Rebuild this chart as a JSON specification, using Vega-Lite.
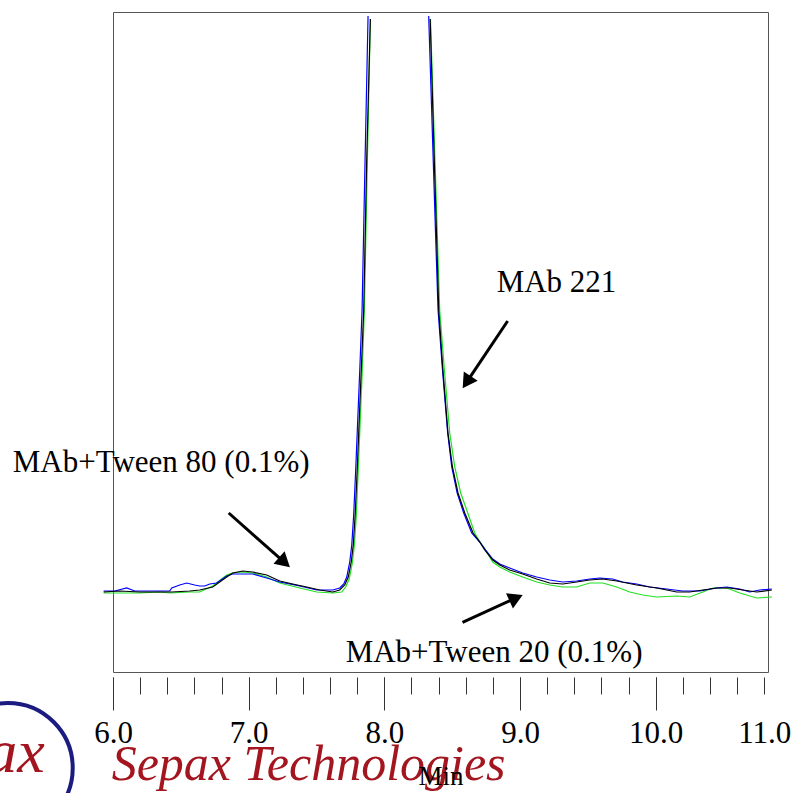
{
  "$schema": "https://vega.github.io/schema/vega-lite/v6.json",
  "autosize": {"type": "none"},
  "width": 655,
  "height": 660,
  "padding": {"left": 113, "top": 12, "right": 27, "bottom": 121},
  "background": "white",
  "config": {"view": {"stroke": "#555555", "strokeWidth": 1}, "font": "Liberation Serif"},
  "datasets": {
    "traces": [
      {"sample": "MAb+Tween 20", "part": "L", "min": 5.931, "mAU": -3},
      {"sample": "MAb+Tween 20", "part": "L", "min": 6.049, "mAU": -3},
      {"sample": "MAb+Tween 20", "part": "L", "min": 6.197, "mAU": -3},
      {"sample": "MAb+Tween 20", "part": "L", "min": 6.344, "mAU": -2},
      {"sample": "MAb+Tween 20", "part": "L", "min": 6.418, "mAU": -3},
      {"sample": "MAb+Tween 20", "part": "L", "min": 6.565, "mAU": -2},
      {"sample": "MAb+Tween 20", "part": "L", "min": 6.639, "mAU": -2},
      {"sample": "MAb+Tween 20", "part": "L", "min": 6.735, "mAU": 4},
      {"sample": "MAb+Tween 20", "part": "L", "min": 6.838, "mAU": 15},
      {"sample": "MAb+Tween 20", "part": "L", "min": 6.882, "mAU": 17},
      {"sample": "MAb+Tween 20", "part": "L", "min": 6.956, "mAU": 18},
      {"sample": "MAb+Tween 20", "part": "L", "min": 7.030, "mAU": 17},
      {"sample": "MAb+Tween 20", "part": "L", "min": 7.133, "mAU": 13},
      {"sample": "MAb+Tween 20", "part": "L", "min": 7.229, "mAU": 7},
      {"sample": "MAb+Tween 20", "part": "L", "min": 7.376, "mAU": 2},
      {"sample": "MAb+Tween 20", "part": "L", "min": 7.502, "mAU": -2},
      {"sample": "MAb+Tween 20", "part": "L", "min": 7.620, "mAU": -3},
      {"sample": "MAb+Tween 20", "part": "L", "min": 7.686, "mAU": -2},
      {"sample": "MAb+Tween 20", "part": "L", "min": 7.715, "mAU": 3},
      {"sample": "MAb+Tween 20", "part": "L", "min": 7.741, "mAU": 11},
      {"sample": "MAb+Tween 20", "part": "L", "min": 7.763, "mAU": 26},
      {"sample": "MAb+Tween 20", "part": "L", "min": 7.778, "mAU": 43},
      {"sample": "MAb+Tween 20", "part": "L", "min": 7.793, "mAU": 73},
      {"sample": "MAb+Tween 20", "part": "L", "min": 7.807, "mAU": 118},
      {"sample": "MAb+Tween 20", "part": "L", "min": 7.822, "mAU": 168},
      {"sample": "MAb+Tween 20", "part": "L", "min": 7.837, "mAU": 218},
      {"sample": "MAb+Tween 20", "part": "L", "min": 7.853, "mAU": 280},
      {"sample": "MAb+Tween 20", "part": "L", "min": 7.875, "mAU": 430},
      {"sample": "MAb+Tween 20", "part": "L", "min": 7.897, "mAU": 571},
      {"sample": "MAb+Tween 20", "part": "R", "min": 8.340, "mAU": 571},
      {"sample": "MAb+Tween 20", "part": "R", "min": 8.371, "mAU": 440},
      {"sample": "MAb+Tween 20", "part": "R", "min": 8.392, "mAU": 350},
      {"sample": "MAb+Tween 20", "part": "R", "min": 8.408, "mAU": 280},
      {"sample": "MAb+Tween 20", "part": "R", "min": 8.441, "mAU": 223},
      {"sample": "MAb+Tween 20", "part": "R", "min": 8.482, "mAU": 157},
      {"sample": "MAb+Tween 20", "part": "R", "min": 8.519, "mAU": 123},
      {"sample": "MAb+Tween 20", "part": "R", "min": 8.563, "mAU": 97},
      {"sample": "MAb+Tween 20", "part": "R", "min": 8.615, "mAU": 77},
      {"sample": "MAb+Tween 20", "part": "R", "min": 8.666, "mAU": 57},
      {"sample": "MAb+Tween 20", "part": "R", "min": 8.710, "mAU": 47},
      {"sample": "MAb+Tween 20", "part": "R", "min": 8.755, "mAU": 38},
      {"sample": "MAb+Tween 20", "part": "R", "min": 8.799, "mAU": 28},
      {"sample": "MAb+Tween 20", "part": "R", "min": 8.851, "mAU": 23},
      {"sample": "MAb+Tween 20", "part": "R", "min": 8.924, "mAU": 18},
      {"sample": "MAb+Tween 20", "part": "R", "min": 9.020, "mAU": 13},
      {"sample": "MAb+Tween 20", "part": "R", "min": 9.123, "mAU": 8},
      {"sample": "MAb+Tween 20", "part": "R", "min": 9.219, "mAU": 5},
      {"sample": "MAb+Tween 20", "part": "R", "min": 9.315, "mAU": 3},
      {"sample": "MAb+Tween 20", "part": "R", "min": 9.418, "mAU": 3},
      {"sample": "MAb+Tween 20", "part": "R", "min": 9.514, "mAU": 7},
      {"sample": "MAb+Tween 20", "part": "R", "min": 9.610, "mAU": 7},
      {"sample": "MAb+Tween 20", "part": "R", "min": 9.713, "mAU": 3},
      {"sample": "MAb+Tween 20", "part": "R", "min": 9.809, "mAU": -2},
      {"sample": "MAb+Tween 20", "part": "R", "min": 9.905, "mAU": -5},
      {"sample": "MAb+Tween 20", "part": "R", "min": 10.008, "mAU": -7},
      {"sample": "MAb+Tween 20", "part": "R", "min": 10.155, "mAU": -6},
      {"sample": "MAb+Tween 20", "part": "R", "min": 10.251, "mAU": -7},
      {"sample": "MAb+Tween 20", "part": "R", "min": 10.347, "mAU": -2},
      {"sample": "MAb+Tween 20", "part": "R", "min": 10.421, "mAU": 2},
      {"sample": "MAb+Tween 20", "part": "R", "min": 10.524, "mAU": 2},
      {"sample": "MAb+Tween 20", "part": "R", "min": 10.620, "mAU": -3},
      {"sample": "MAb+Tween 20", "part": "R", "min": 10.745, "mAU": -8},
      {"sample": "MAb+Tween 20", "part": "R", "min": 10.856, "mAU": -7},

      {"sample": "MAb+Tween 80", "part": "L", "min": 5.931, "mAU": -1},
      {"sample": "MAb+Tween 80", "part": "L", "min": 6.013, "mAU": -1},
      {"sample": "MAb+Tween 80", "part": "L", "min": 6.101, "mAU": 2},
      {"sample": "MAb+Tween 80", "part": "L", "min": 6.160, "mAU": -1},
      {"sample": "MAb+Tween 80", "part": "L", "min": 6.271, "mAU": -1},
      {"sample": "MAb+Tween 80", "part": "L", "min": 6.418, "mAU": -1},
      {"sample": "MAb+Tween 80", "part": "L", "min": 6.433, "mAU": 2},
      {"sample": "MAb+Tween 80", "part": "L", "min": 6.492, "mAU": 5},
      {"sample": "MAb+Tween 80", "part": "L", "min": 6.543, "mAU": 7},
      {"sample": "MAb+Tween 80", "part": "L", "min": 6.602, "mAU": 5},
      {"sample": "MAb+Tween 80", "part": "L", "min": 6.639, "mAU": 4},
      {"sample": "MAb+Tween 80", "part": "L", "min": 6.676, "mAU": 4},
      {"sample": "MAb+Tween 80", "part": "L", "min": 6.713, "mAU": 6},
      {"sample": "MAb+Tween 80", "part": "L", "min": 6.764, "mAU": 7},
      {"sample": "MAb+Tween 80", "part": "L", "min": 6.838, "mAU": 14},
      {"sample": "MAb+Tween 80", "part": "L", "min": 6.882, "mAU": 16},
      {"sample": "MAb+Tween 80", "part": "L", "min": 6.956, "mAU": 16},
      {"sample": "MAb+Tween 80", "part": "L", "min": 7.030, "mAU": 16},
      {"sample": "MAb+Tween 80", "part": "L", "min": 7.133, "mAU": 12},
      {"sample": "MAb+Tween 80", "part": "L", "min": 7.229, "mAU": 8},
      {"sample": "MAb+Tween 80", "part": "L", "min": 7.376, "mAU": 4},
      {"sample": "MAb+Tween 80", "part": "L", "min": 7.502, "mAU": 0},
      {"sample": "MAb+Tween 80", "part": "L", "min": 7.620, "mAU": 0},
      {"sample": "MAb+Tween 80", "part": "L", "min": 7.671, "mAU": 2},
      {"sample": "MAb+Tween 80", "part": "L", "min": 7.701, "mAU": 6},
      {"sample": "MAb+Tween 80", "part": "L", "min": 7.723, "mAU": 13},
      {"sample": "MAb+Tween 80", "part": "L", "min": 7.745, "mAU": 28},
      {"sample": "MAb+Tween 80", "part": "L", "min": 7.760, "mAU": 45},
      {"sample": "MAb+Tween 80", "part": "L", "min": 7.774, "mAU": 75},
      {"sample": "MAb+Tween 80", "part": "L", "min": 7.789, "mAU": 120},
      {"sample": "MAb+Tween 80", "part": "L", "min": 7.804, "mAU": 170},
      {"sample": "MAb+Tween 80", "part": "L", "min": 7.819, "mAU": 220},
      {"sample": "MAb+Tween 80", "part": "L", "min": 7.836, "mAU": 280},
      {"sample": "MAb+Tween 80", "part": "L", "min": 7.858, "mAU": 430},
      {"sample": "MAb+Tween 80", "part": "L", "min": 7.880, "mAU": 574},
      {"sample": "MAb+Tween 80", "part": "R", "min": 8.327, "mAU": 574},
      {"sample": "MAb+Tween 80", "part": "R", "min": 8.358, "mAU": 440},
      {"sample": "MAb+Tween 80", "part": "R", "min": 8.379, "mAU": 350},
      {"sample": "MAb+Tween 80", "part": "R", "min": 8.396, "mAU": 280},
      {"sample": "MAb+Tween 80", "part": "R", "min": 8.427, "mAU": 223},
      {"sample": "MAb+Tween 80", "part": "R", "min": 8.467, "mAU": 157},
      {"sample": "MAb+Tween 80", "part": "R", "min": 8.497, "mAU": 123},
      {"sample": "MAb+Tween 80", "part": "R", "min": 8.537, "mAU": 97},
      {"sample": "MAb+Tween 80", "part": "R", "min": 8.585, "mAU": 77},
      {"sample": "MAb+Tween 80", "part": "R", "min": 8.644, "mAU": 57},
      {"sample": "MAb+Tween 80", "part": "R", "min": 8.703, "mAU": 48},
      {"sample": "MAb+Tween 80", "part": "R", "min": 8.747, "mAU": 40},
      {"sample": "MAb+Tween 80", "part": "R", "min": 8.799, "mAU": 31},
      {"sample": "MAb+Tween 80", "part": "R", "min": 8.851, "mAU": 26},
      {"sample": "MAb+Tween 80", "part": "R", "min": 8.924, "mAU": 22},
      {"sample": "MAb+Tween 80", "part": "R", "min": 9.020, "mAU": 17},
      {"sample": "MAb+Tween 80", "part": "R", "min": 9.123, "mAU": 13},
      {"sample": "MAb+Tween 80", "part": "R", "min": 9.219, "mAU": 10},
      {"sample": "MAb+Tween 80", "part": "R", "min": 9.315, "mAU": 8},
      {"sample": "MAb+Tween 80", "part": "R", "min": 9.418, "mAU": 9},
      {"sample": "MAb+Tween 80", "part": "R", "min": 9.514, "mAU": 11},
      {"sample": "MAb+Tween 80", "part": "R", "min": 9.588, "mAU": 12},
      {"sample": "MAb+Tween 80", "part": "R", "min": 9.683, "mAU": 11},
      {"sample": "MAb+Tween 80", "part": "R", "min": 9.757, "mAU": 8},
      {"sample": "MAb+Tween 80", "part": "R", "min": 9.860, "mAU": 6},
      {"sample": "MAb+Tween 80", "part": "R", "min": 9.956, "mAU": 3},
      {"sample": "MAb+Tween 80", "part": "R", "min": 10.081, "mAU": 1},
      {"sample": "MAb+Tween 80", "part": "R", "min": 10.199, "mAU": -1},
      {"sample": "MAb+Tween 80", "part": "R", "min": 10.325, "mAU": -1},
      {"sample": "MAb+Tween 80", "part": "R", "min": 10.450, "mAU": 2},
      {"sample": "MAb+Tween 80", "part": "R", "min": 10.524, "mAU": 3},
      {"sample": "MAb+Tween 80", "part": "R", "min": 10.620, "mAU": 1},
      {"sample": "MAb+Tween 80", "part": "R", "min": 10.693, "mAU": -2},
      {"sample": "MAb+Tween 80", "part": "R", "min": 10.767, "mAU": 0},
      {"sample": "MAb+Tween 80", "part": "R", "min": 10.856, "mAU": 1},

      {"sample": "MAb 221", "part": "L", "min": 5.931, "mAU": -2},
      {"sample": "MAb 221", "part": "L", "min": 6.049, "mAU": -1},
      {"sample": "MAb 221", "part": "L", "min": 6.197, "mAU": -2},
      {"sample": "MAb 221", "part": "L", "min": 6.344, "mAU": -2},
      {"sample": "MAb 221", "part": "L", "min": 6.433, "mAU": -2},
      {"sample": "MAb 221", "part": "L", "min": 6.565, "mAU": -1},
      {"sample": "MAb 221", "part": "L", "min": 6.639, "mAU": 0},
      {"sample": "MAb 221", "part": "L", "min": 6.735, "mAU": 3},
      {"sample": "MAb 221", "part": "L", "min": 6.838, "mAU": 13},
      {"sample": "MAb 221", "part": "L", "min": 6.882, "mAU": 17},
      {"sample": "MAb 221", "part": "L", "min": 6.956, "mAU": 19},
      {"sample": "MAb 221", "part": "L", "min": 7.030, "mAU": 18},
      {"sample": "MAb 221", "part": "L", "min": 7.133, "mAU": 15},
      {"sample": "MAb 221", "part": "L", "min": 7.229, "mAU": 9},
      {"sample": "MAb 221", "part": "L", "min": 7.325, "mAU": 6},
      {"sample": "MAb 221", "part": "L", "min": 7.428, "mAU": 3},
      {"sample": "MAb 221", "part": "L", "min": 7.524, "mAU": 0},
      {"sample": "MAb 221", "part": "L", "min": 7.620, "mAU": -2},
      {"sample": "MAb 221", "part": "L", "min": 7.671, "mAU": 0},
      {"sample": "MAb 221", "part": "L", "min": 7.708, "mAU": 5},
      {"sample": "MAb 221", "part": "L", "min": 7.734, "mAU": 13},
      {"sample": "MAb 221", "part": "L", "min": 7.756, "mAU": 28},
      {"sample": "MAb 221", "part": "L", "min": 7.771, "mAU": 45},
      {"sample": "MAb 221", "part": "L", "min": 7.785, "mAU": 75},
      {"sample": "MAb 221", "part": "L", "min": 7.800, "mAU": 120},
      {"sample": "MAb 221", "part": "L", "min": 7.815, "mAU": 170},
      {"sample": "MAb 221", "part": "L", "min": 7.830, "mAU": 220},
      {"sample": "MAb 221", "part": "L", "min": 7.848, "mAU": 280},
      {"sample": "MAb 221", "part": "L", "min": 7.870, "mAU": 430},
      {"sample": "MAb 221", "part": "L", "min": 7.897, "mAU": 571},
      {"sample": "MAb 221", "part": "R", "min": 8.338, "mAU": 571},
      {"sample": "MAb 221", "part": "R", "min": 8.366, "mAU": 440},
      {"sample": "MAb 221", "part": "R", "min": 8.386, "mAU": 350},
      {"sample": "MAb 221", "part": "R", "min": 8.401, "mAU": 280},
      {"sample": "MAb 221", "part": "R", "min": 8.430, "mAU": 223},
      {"sample": "MAb 221", "part": "R", "min": 8.469, "mAU": 157},
      {"sample": "MAb 221", "part": "R", "min": 8.502, "mAU": 123},
      {"sample": "MAb 221", "part": "R", "min": 8.543, "mAU": 97},
      {"sample": "MAb 221", "part": "R", "min": 8.593, "mAU": 77},
      {"sample": "MAb 221", "part": "R", "min": 8.654, "mAU": 57},
      {"sample": "MAb 221", "part": "R", "min": 8.703, "mAU": 48},
      {"sample": "MAb 221", "part": "R", "min": 8.740, "mAU": 40},
      {"sample": "MAb 221", "part": "R", "min": 8.799, "mAU": 30},
      {"sample": "MAb 221", "part": "R", "min": 8.851, "mAU": 25},
      {"sample": "MAb 221", "part": "R", "min": 8.924, "mAU": 20},
      {"sample": "MAb 221", "part": "R", "min": 9.020, "mAU": 16},
      {"sample": "MAb 221", "part": "R", "min": 9.123, "mAU": 11},
      {"sample": "MAb 221", "part": "R", "min": 9.219, "mAU": 7},
      {"sample": "MAb 221", "part": "R", "min": 9.315, "mAU": 6},
      {"sample": "MAb 221", "part": "R", "min": 9.418, "mAU": 8},
      {"sample": "MAb 221", "part": "R", "min": 9.514, "mAU": 10},
      {"sample": "MAb 221", "part": "R", "min": 9.610, "mAU": 11},
      {"sample": "MAb 221", "part": "R", "min": 9.713, "mAU": 9},
      {"sample": "MAb 221", "part": "R", "min": 9.860, "mAU": 5},
      {"sample": "MAb 221", "part": "R", "min": 10.008, "mAU": 2},
      {"sample": "MAb 221", "part": "R", "min": 10.155, "mAU": -2},
      {"sample": "MAb 221", "part": "R", "min": 10.251, "mAU": -2},
      {"sample": "MAb 221", "part": "R", "min": 10.347, "mAU": 0},
      {"sample": "MAb 221", "part": "R", "min": 10.450, "mAU": 2},
      {"sample": "MAb 221", "part": "R", "min": 10.546, "mAU": 2},
      {"sample": "MAb 221", "part": "R", "min": 10.642, "mAU": 0},
      {"sample": "MAb 221", "part": "R", "min": 10.745, "mAU": -2},
      {"sample": "MAb 221", "part": "R", "min": 10.856, "mAU": 0}
    ],
    "labels": [
      {"label": "MAb+Tween 80 (0.1%)", "min": 5.261, "mAU": 118},
      {"label": "MAb 221", "min": 8.828, "mAU": 298},
      {"label": "MAb+Tween 20 (0.1%)", "min": 7.715, "mAU": -72}
    ],
    "arrows": [
      {"target": "MAb+Tween 80", "min": 6.853, "mAU": 77, "min2": 7.264, "mAU2": 27.6, "dir": 131.5},
      {"target": "MAb 221", "min": 8.909, "mAU": 269, "min2": 8.607, "mAU2": 207.8, "dir": 213.9},
      {"target": "MAb+Tween 20", "min": 8.576, "mAU": -32.3, "min2": 8.971, "mAU2": -7.9, "dir": 65.5}
    ],
    "logo": [
      {"text": "Sepax Technologies", "min": 5.990, "mAU": -190}
    ],
    "ring": [
      {"name": "Sepax emblem", "min": 5.224, "mAU": -178}
    ],
    "emblem": [
      {"text": "Sepax", "min": 5.497, "mAU": -182}
    ]
  },
  "resolve": {"axis": {"x": "independent"}},
  "layer": [
    {
      "data": {"name": "traces"},
      "mark": {"type": "line", "strokeWidth": 1.2, "interpolate": "linear"},
      "encoding": {
        "x": {
          "field": "min", "type": "quantitative",
          "scale": {"domain": [6, 10.828], "nice": false, "zero": false},
          "axis": {
            "orient": "bottom", "values": [6, 7, 8, 9, 10, 10.8], "offset": 5,
            "domain": false, "grid": false, "tickSize": 33, "tickColor": "#333333", "tickWidth": 1,
            "tickOpacity": {"condition": {"test": "datum.value > 10.5", "value": 0}, "value": 1},
            "labelFont": "Liberation Serif", "labelFontSize": 31, "labelColor": "#000000",
            "labelPadding": 8, "labelFlush": false, "labelOverlap": false,
            "labelExpr": "datum.value > 10.5 ? '11.0' : format(datum.value, '.1f')",
            "title": "Min", "titleFont": "Liberation Serif", "titleFontSize": 27,
            "titleFontWeight": "normal", "titleColor": "#000000", "titlePadding": 15, "zindex": 1
          }
        },
        "y": {
          "field": "mAU", "type": "quantitative",
          "scale": {"domain": [-82, 578], "nice": false, "zero": false},
          "axis": null
        },
        "color": {
          "field": "sample", "type": "nominal",
          "scale": {"domain": ["MAb+Tween 20", "MAb+Tween 80", "MAb 221"], "range": ["#22e022", "#0000ff", "#000000"]},
          "legend": null
        },
        "detail": {"field": "part", "type": "nominal"}
      }
    },
    {
      "data": {"name": "labels"},
      "mark": {"type": "text", "font": "Liberation Serif", "fontSize": 31, "align": "left", "baseline": "alphabetic", "color": "#000000"},
      "encoding": {
        "x": {
          "field": "min", "type": "quantitative",
          "axis": {
            "orient": "bottom", "values": [6, 6.2, 6.4, 6.6, 6.8, 7, 7.2, 7.4, 7.6, 7.8, 8, 8.2, 8.4, 8.6, 8.8, 9, 9.2, 9.4, 9.6, 9.8, 10, 10.2, 10.4, 10.6, 10.8],
            "offset": 5, "domain": false, "grid": false, "tickSize": 17, "tickColor": "#333333",
            "tickWidth": 1, "labels": false, "title": null
          }
        },
        "y": {"field": "mAU", "type": "quantitative", "axis": null},
        "text": {"field": "label"}
      }
    },
    {
      "data": {"name": "arrows"},
      "mark": {"type": "rule", "strokeWidth": 3, "color": "#000000"},
      "encoding": {
        "x": {"field": "min", "type": "quantitative", "axis": null},
        "y": {"field": "mAU", "type": "quantitative", "axis": null},
        "x2": {"field": "min2"},
        "y2": {"field": "mAU2"}
      }
    },
    {
      "data": {"name": "arrows"},
      "mark": {"type": "point", "shape": "triangle-up", "filled": true, "size": 280, "color": "#000000", "opacity": 1},
      "encoding": {
        "x": {"field": "min2", "type": "quantitative", "axis": null},
        "y": {"field": "mAU2", "type": "quantitative", "axis": null},
        "angle": {"field": "dir", "type": "quantitative", "scale": null}
      }
    },
    {
      "data": {"name": "logo"},
      "mark": {"type": "text", "font": "Liberation Serif", "fontStyle": "italic", "fontSize": 50, "align": "left", "baseline": "alphabetic", "color": "#a3161f"},
      "encoding": {
        "x": {"field": "min", "type": "quantitative", "axis": null},
        "y": {"field": "mAU", "type": "quantitative", "axis": null},
        "text": {"field": "text"}
      }
    },
    {
      "data": {"name": "ring"},
      "mark": {"type": "point", "shape": "circle", "filled": false, "size": 16900, "stroke": "#1c1c80", "strokeWidth": 4, "opacity": 1},
      "encoding": {
        "x": {"field": "min", "type": "quantitative", "axis": null},
        "y": {"field": "mAU", "type": "quantitative", "axis": null}
      }
    },
    {
      "data": {"name": "emblem"},
      "mark": {"type": "text", "font": "Liberation Serif", "fontStyle": "italic", "fontSize": 62, "align": "right", "baseline": "alphabetic", "color": "#a3161f"},
      "encoding": {
        "x": {"field": "min", "type": "quantitative", "axis": null},
        "y": {"field": "mAU", "type": "quantitative", "axis": null},
        "text": {"field": "text"}
      }
    }
  ]
}
